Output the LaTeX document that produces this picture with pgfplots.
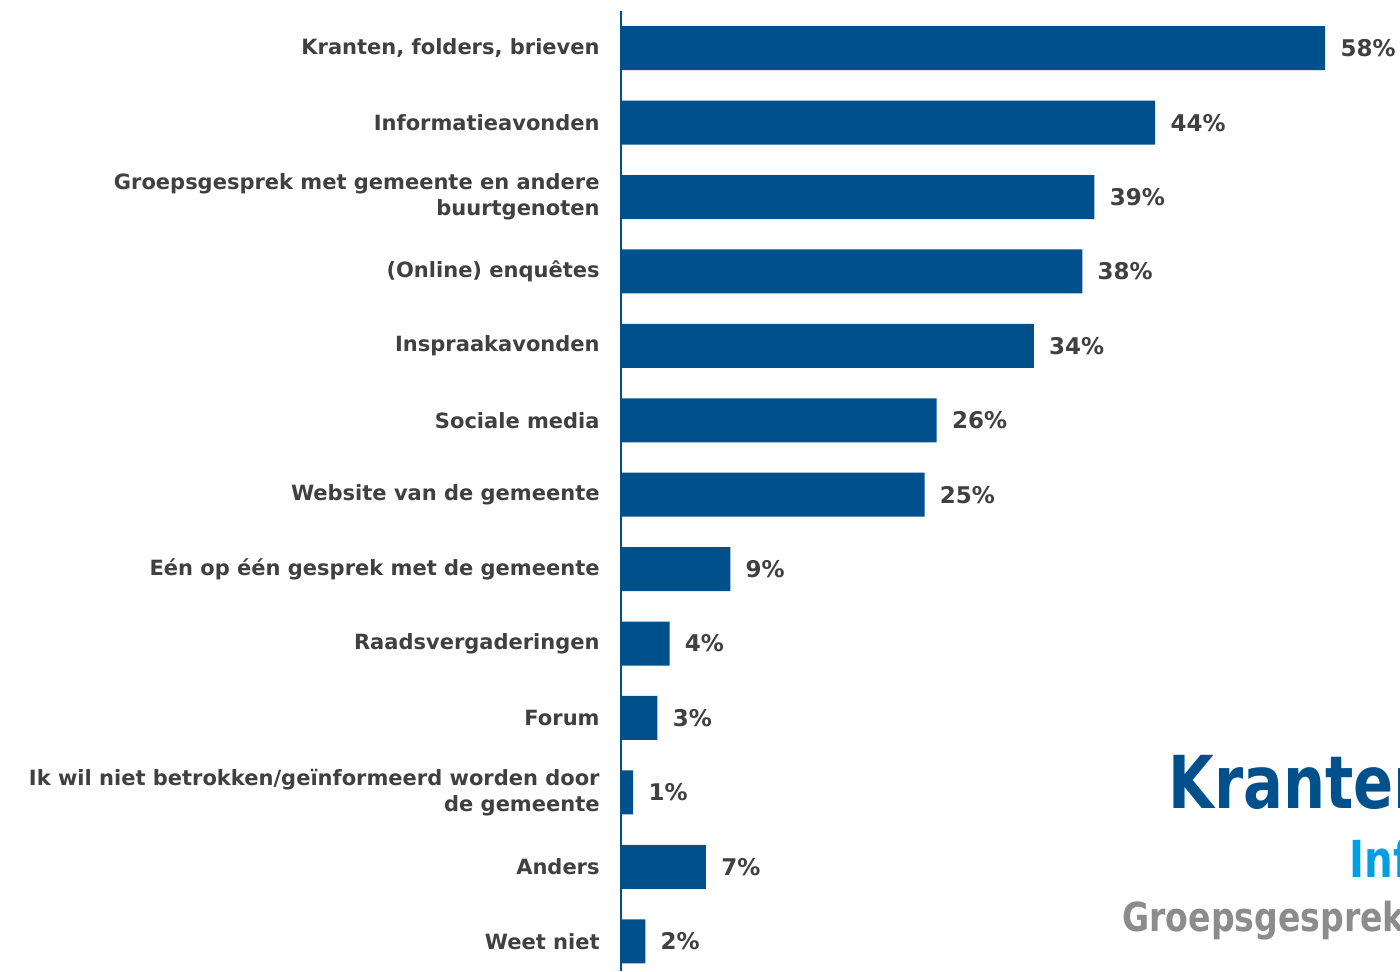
\documentclass[border=0pt]{standalone}
\usepackage{fontspec}
\setmainfont{DejaVu Sans}
\newfontfamily\condfont{DejaVu Sans Condensed}
\usepackage{pgfplots}
\pgfplotsset{compat=1.18}
\definecolor{barblue}{HTML}{00508C}
\definecolor{labelgray}{HTML}{404040}
\definecolor{lightblue}{HTML}{009FE3}
\definecolor{cloudgray}{HTML}{8C8C8C}

\begin{document}
\begin{tikzpicture}
\useasboundingbox (0,0) rectangle (700pt,485.5pt);
\clip (0,0) rectangle (700pt,485.5pt);
\begin{axis}[
    at={(310.5pt,0pt)}, anchor=south west,
    scale only axis,
    width=389.5pt, height=480pt,
    xbar, bar width=22pt,
    xmin=0, xmax=64.17,
    ymin=-0.5, ymax=12.4,
    y dir=reverse,
    axis x line=none,
    axis y line*=left,
    y axis line style={-, draw=barblue, line width=1pt},
    ytick={0,...,12},
    major tick length=0pt,
    yticklabels={
        {Kranten, folders, brieven},
        {Informatieavonden},
        {Groepsgesprek met gemeente en andere\\buurtgenoten},
        {(Online) enquêtes},
        {Inspraakavonden},
        {Sociale media},
        {Website van de gemeente},
        {Eén op één gesprek met de gemeente},
        {Raadsvergaderingen},
        {Forum},
        {Ik wil niet betrokken/geïnformeerd worden door\\de gemeente},
        {Anders},
        {Weet niet}
    },
    yticklabel style={align=right, inner sep=0pt, xshift=-10.5pt,
        text=labelgray, font=\fontsize{10.5pt}{13pt}\selectfont\bfseries},
    /pgf/number format/assume math mode=true,
    point meta=x,
    nodes near coords={\pgfmathprintnumber{\pgfplotspointmeta}\%},
    nodes near coords style={anchor=west, inner sep=0pt, xshift=7.5pt,
        text=labelgray, font=\fontsize{11.5pt}{13pt}\selectfont\bfseries},
    clip=false,
]
\addplot[fill=barblue, draw=none] coordinates {
    (58,0) (44,1) (39,2) (38,3) (34,4) (26,5) (25,6)
    (9,7) (4,8) (3,9) (1,10) (7,11) (2,12)
};
\end{axis}
\node[anchor=base west, inner sep=0pt, text=barblue,
    font=\condfont\fontsize{36.5pt}{40pt}\selectfont\bfseries] at (584pt,81.5pt) {\scalebox{0.9}[1]{Kranten}};
\node[anchor=base west, inner sep=0pt, text=lightblue,
    font=\condfont\fontsize{25.5pt}{30pt}\selectfont\bfseries] at (674.5pt,47pt) {\scalebox{0.88}[1]{Informatieavonden}};
\node[anchor=base west, inner sep=0pt, text=cloudgray,
    font=\condfont\fontsize{20pt}{24pt}\selectfont\bfseries] at (561pt,20pt) {\scalebox{0.92}[1]{Groepsgesprek}};
\end{tikzpicture}
\end{document}
